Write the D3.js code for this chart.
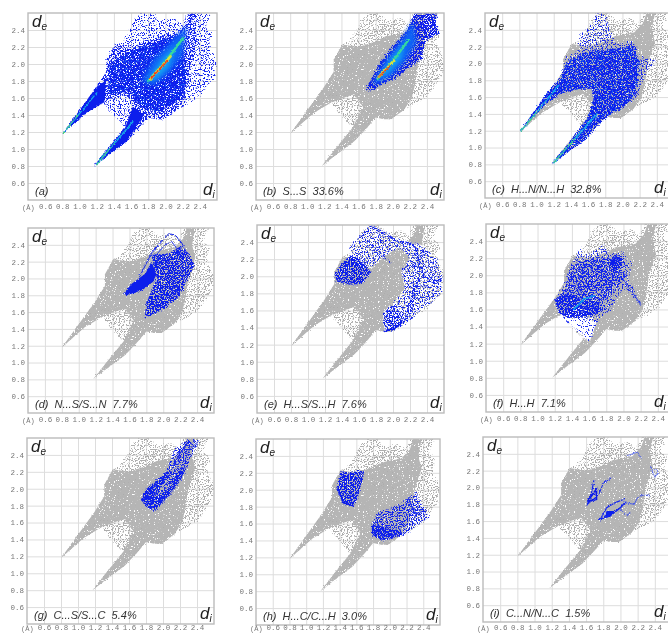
<!DOCTYPE html>
<meta charset="utf-8">
<style>
html, body { margin: 0; background: #fff; }
svg { display: block; }
.plot { filter: blur(0.5px); }
.tick text { font: 7.5px "Liberation Mono", monospace; fill: #777; }
.grid line { stroke: #ddd; }
.grid path, .labels path, .labels line { display: none; }
.frame { fill: none; stroke: #bbb; stroke-width: 1.4; }
.name { font: italic 11px "Liberation Sans", sans-serif; fill: #333; white-space: pre; }
.dlabel { font: italic 17px "Liberation Sans", sans-serif; fill: #222; }
.dlabel tspan { font-size: 10px; }
.unit { font: 7px "Liberation Mono", monospace; fill: #777; }
</style>
<body>
<script src="https://cdn.jsdelivr.net/npm/d3@7"></script>
<script>

// all regions are [di, de]
var tickValues = [0.6, 0.8, 1.0, 1.2, 1.4, 1.6, 1.8, 2.0, 2.2, 2.4];

var outline = [[0.8,1.18],[1.19,1.72],[1.31,1.91],[1.31,2.05],[1.41,2.23],[1.49,2.26],[1.56,2.36],[1.64,2.52],[1.72,2.6],[1.84,2.6],[1.94,2.51],[2.09,2.54],[2.19,2.48],[2.25,2.6],[2.53,2.6],[2.47,2.44],[2.55,2.36],[2.51,2.25],[2.6,2.01],[2.58,1.87],[2.41,1.62],[2.29,1.54],[2.13,1.46],[1.98,1.35],[1.9,1.35],[1.8,1.37],[1.7,1.25],[1.55,1.09],[1.35,0.94],[1.17,0.8],[1.35,1.03],[1.53,1.25],[1.27,1.54],[1.07,1.42]];
var dense = [[0.8,1.18],[1.19,1.72],[1.31,1.91],[1.31,2.05],[1.41,2.23],[1.6,2.2],[1.75,2.25],[1.94,2.33],[2.14,2.37],[2.24,2.48],[2.28,2.6],[2.38,2.6],[2.34,2.4],[2.38,2.25],[2.3,2.02],[2.26,1.75],[2.22,1.59],[2.13,1.46],[1.98,1.35],[1.9,1.35],[1.8,1.37],[1.7,1.25],[1.55,1.09],[1.35,0.94],[1.17,0.8],[1.35,1.03],[1.53,1.25],[1.65,1.5],[1.54,1.64],[1.42,1.6],[1.27,1.54],[1.07,1.42]];

var aSpikeUp = [[0.8,1.18],[1.19,1.72],[1.3,1.8],[1.3,1.6],[1.27,1.54],[1.07,1.42]];
var aSpikeLow = [[1.17,0.8],[1.35,1.03],[1.53,1.25],[1.62,1.5],[1.75,1.4],[1.55,1.09],[1.35,0.94]];
var aMass = [[1.33,1.65],[1.35,2.0],[1.5,2.12],[1.72,2.2],[2.16,2.36],[2.25,1.9],[2.2,1.6],[1.9,1.42],[1.7,1.5],[1.6,1.68]];
var aGlow = [[1.72,1.8],[1.85,2.05],[2.1,2.3],[2.25,2.45],[2.2,2.1],[2.05,1.9],[1.85,1.75]];
var aCyan = [[1.8,1.82],[1.95,2.05],[2.12,2.22],[2.05,1.98],[1.9,1.82]];
var aRidge = [[1.8,1.8],[2.0,2.03],[2.2,2.3]];
var aYellow = [[1.82,1.82],[2.06,2.09]];
var aRed = [[1.83,1.83],[2.02,2.04]];
var aUpLine = [[0.82,1.2],[1.2,1.66]];
var aLowLine = [[1.2,0.82],[1.62,1.32]];
var aUpHot = [[0.81,1.19],[0.98,1.4]];
var aLowHot = [[1.2,0.82],[1.4,1.06]];

var bBlue = [[1.68,1.69],[1.83,1.98],[1.95,2.15],[2.08,2.3],[2.17,2.4],[2.26,2.6],[2.52,2.6],[2.5,2.48],[2.55,2.36],[2.38,2.28],[2.34,2.05],[2.15,1.93],[2.05,1.84],[1.91,1.78],[1.75,1.69]];
var bGlow = [[1.76,1.76],[1.9,2.02],[2.1,2.28],[2.24,2.5],[2.28,2.25],[2.14,2.02],[1.98,1.86],[1.84,1.78]];
var bCyan = [[1.84,1.84],[1.98,2.06],[2.14,2.25],[2.1,2.06],[1.94,1.88]];
var bRidge = [[1.82,1.82],[2.0,2.03],[2.18,2.28]];
var bYellow = [[1.83,1.84],[2.02,2.05]];
var bRed = [[1.84,1.85],[1.97,1.98]];

var cBlue = [[0.8,1.18],[1.11,1.64],[1.28,1.86],[1.34,2.07],[1.48,2.15],[1.5,2.35],[1.66,2.47],[1.7,2.6],[1.81,2.6],[1.85,2.39],[1.93,2.23],[2.13,2.27],[2.21,2.08],[2.4,2.04],[2.25,1.84],[2.17,1.6],[2.01,1.48],[1.82,1.37],[1.7,1.25],[1.58,1.1],[1.42,0.99],[1.18,0.8],[1.4,1.09],[1.6,1.36],[1.67,1.6],[1.64,1.7],[1.5,1.7],[1.28,1.64],[1.11,1.52]];
var cMass = [[0.8,1.18],[1.11,1.64],[1.28,1.82],[1.36,2.02],[1.52,2.12],[1.93,2.18],[2.12,2.2],[2.2,2.02],[2.18,1.8],[2.13,1.6],[2.01,1.48],[1.82,1.37],[1.7,1.25],[1.58,1.1],[1.42,0.99],[1.18,0.8],[1.4,1.09],[1.6,1.36],[1.67,1.6],[1.64,1.7],[1.5,1.7],[1.28,1.64],[1.11,1.52]];
var cUpLine = [[0.82,1.2],[1.26,1.74]];
var cLowLine = [[1.2,0.82],[1.7,1.4]];
var cUpHot = [[0.82,1.2],[1.0,1.42]];
var cLowHot = [[1.2,0.82],[1.44,1.1]];

var dLeft = [[1.53,1.82],[1.63,1.94],[1.79,2.06],[1.86,2.2],[1.92,2.05],[1.88,1.96],[1.75,1.86],[1.57,1.8]];
var dRight = [[1.78,1.53],[1.8,1.72],[1.92,2.0],[1.86,2.28],[2.06,2.3],[2.2,2.38],[2.3,2.3],[2.37,2.16],[2.2,1.8],[2.02,1.64]];
var dCore = [[1.8,1.54],[1.82,1.72],[1.96,1.95],[2.0,2.2],[2.16,2.1],[2.16,1.84],[2.02,1.68]];
var dArch = [[1.86,2.3],[2.0,2.46],[2.06,2.53],[2.14,2.52],[2.22,2.42],[2.28,2.3]];
var dArchIn = [[1.9,2.26],[2.02,2.4],[2.1,2.44],[2.2,2.3]];
var dLeftLine = [[1.72,2.02],[1.86,2.3]];

var eLobeA = [[1.31,2.03],[1.34,1.94],[1.47,1.9],[1.63,1.91],[1.75,2.05],[1.59,2.21],[1.49,2.24],[1.38,2.13]];
var eBand = [[1.49,2.35],[1.59,2.45],[1.71,2.58],[1.82,2.58],[2.02,2.43],[2.33,2.37],[2.52,2.21],[2.59,1.98],[2.56,1.78],[2.37,1.62],[2.21,1.49],[2.02,1.37],[1.9,1.37],[1.88,1.58],[2.02,1.7],[2.14,1.86],[2.1,2.05],[2.2,2.22],[2.08,2.34],[1.95,2.27],[1.75,2.1],[1.6,2.1],[1.52,2.2]];
var eLobeB = [[1.88,1.58],[1.9,1.37],[2.02,1.37],[2.12,1.5],[2.04,1.66]];
var eLobeBEdge = [[1.9,1.36],[2.0,1.38],[2.1,1.46]];
var eTop = [[1.75,2.58],[1.9,2.5],[2.05,2.42],[2.25,2.36],[2.3,2.2],[2.36,2.0],[2.5,1.95],[2.58,1.96]];
var eStreak = [[1.7,2.42],[1.82,2.3],[1.97,2.16]];
var eStreak2 = [[2.3,1.95],[2.22,1.7],[2.16,1.5]];
var eStreak3 = [[2.12,2.08],[2.28,2.14],[2.36,2.3]];
var eLobeALine = [[1.48,2.22],[1.56,2.1],[1.58,1.95]];

var fBlue = [[1.2,1.7],[1.3,1.89],[1.39,2.13],[1.51,2.34],[1.53,2.21],[1.78,2.36],[1.84,2.25],[2.0,2.27],[2.1,2.13],[2.06,1.97],[2.21,1.65],[2.0,1.85],[1.84,1.58],[1.69,1.46],[1.61,1.23],[1.57,1.24],[1.26,1.54]];
var fUpper = [[1.3,1.75],[1.38,2.1],[1.6,2.2],[1.86,2.2],[2.04,2.0],[1.85,1.75],[1.62,1.66],[1.45,1.72]];
var fArc = [[1.2,1.7],[1.26,1.55],[1.38,1.5],[1.6,1.52],[1.75,1.58],[1.72,1.7],[1.5,1.7],[1.4,1.78],[1.28,1.78]];
var fSpot = [[1.82,2.12],[1.9,2.24],[2.0,2.2],[1.98,2.08],[1.88,2.04]];
var fStreak = [[2.0,1.95],[2.2,1.66]];
var fGlow = [[1.42,1.6],[1.54,1.72],[1.66,1.76]];
var fLower = [[1.26,1.54],[1.57,1.24],[1.61,1.23],[1.69,1.46],[1.5,1.5],[1.38,1.5]];

var gBlue = [[1.74,1.87],[1.8,1.99],[2.04,2.2],[2.13,2.46],[2.29,2.58],[2.43,2.57],[2.31,2.32],[2.25,2.17],[2.13,1.99],[1.99,1.83],[1.9,1.74],[1.8,1.79]];
var gRim = [[1.74,1.87],[1.8,1.99],[2.04,2.2],[2.12,2.2],[1.95,2.0],[1.9,1.9],[2.04,1.97],[2.22,2.26],[2.25,2.17],[2.13,1.99],[1.99,1.83],[1.9,1.74],[1.8,1.79]];
var gTop = [[2.13,2.28],[2.2,2.42],[2.3,2.56]];
var gTop2 = [[2.24,2.3],[2.32,2.48],[2.42,2.56]];

var hUpper = [[1.36,2.02],[1.41,2.22],[1.52,2.2],[1.67,2.23],[1.69,2.18],[1.61,1.88],[1.56,1.8],[1.44,1.84]];
var hUpperEdge = [[1.38,2.02],[1.44,1.85],[1.56,1.81]];
var hLower = [[1.78,1.6],[1.85,1.72],[2.13,1.84],[2.32,1.98],[2.36,1.86],[2.48,1.68],[2.36,1.6],[2.17,1.46],[1.93,1.4],[1.79,1.46]];
var hLowerDense = [[1.78,1.6],[1.95,1.56],[2.17,1.48],[1.93,1.4],[1.79,1.46]];
var hLine = [[2.22,1.9],[2.3,1.72],[2.38,1.74]];

var iUpA = [[1.61,1.79],[1.66,1.92],[1.69,2.08]];
var iUpB = [[1.62,1.8],[1.75,1.92],[1.8,2.05],[1.9,2.12]];
var iUpC = [[1.64,1.84],[1.72,1.86],[1.72,1.98],[1.62,1.84]];
var iLowA = [[1.76,1.61],[1.84,1.76],[1.94,1.82],[2.04,1.86]];
var iLowB = [[1.76,1.62],[1.9,1.68],[2.0,1.76],[2.06,1.83]];
var iLowC = [[1.8,1.63],[1.84,1.72],[1.94,1.72],[1.88,1.65],[1.8,1.63]];
var iLowD = [[2.04,1.82],[2.16,1.8],[2.2,1.88],[2.27,1.91],[2.34,1.9]];
var iLowE = [[1.98,1.76],[2.08,1.66],[2.12,1.72]];
var iTop = [[2.08,2.38],[2.2,2.42],[2.24,2.36]];
var iRight = [[2.35,2.25],[2.4,2.12],[2.44,2.18],[2.4,2.22]];

// speckle filters: cut = noise level below which a fill drops out
var speckles = [
  {id: "sp15", cut: 0.60, seed: 3, rough: 4},
  {id: "sp30", cut: 0.55, seed: 7, rough: 4},
  {id: "sp40", cut: 0.52, seed: 13, rough: 4},
  {id: "sp55", cut: 0.49, seed: 11, rough: 4},
  {id: "sp80", cut: 0.42, seed: 5, rough: 4},
  {id: "sp92", cut: 0.30, seed: 9, rough: 2},
  {id: "rough", cut: 0, seed: 2, rough: 3}
];

var styles = {
  gSparse: {fill: "#adadad", filter: "sp40"},
  gDense: {fill: "#b5b5b5", filter: "sp92"},
  bThin: {fill: "#1a2cf2", filter: "sp15"},
  bSparse: {fill: "#1426f0", filter: "sp30"},
  bMed: {fill: "#1022ee", filter: "sp55"},
  bThick: {fill: "#0c1eec", filter: "sp80"},
  bSolid: {fill: "#0c1eec", filter: "rough"},
  mottle: {fill: "#1a5cf5", filter: "sp15"},
  azure: {fill: "#0f63f5", filter: "soft"},
  sky: {fill: "#13a0f2", filter: "soft"},
  white: {fill: "#fff", filter: "rough"}
};

var grayBase = [[outline, "gSparse"], [dense, "gDense"]];

var panels = [
  {x: 28, y: 13, w: 189, h: 187, label: "(a)", base: [],
    areas: [[outline, "bSparse"], [dense, "bMed"], [aSpikeUp, "bSolid"], [aSpikeLow, "bSolid"], [aMass, "bThick"], [aMass, "mottle"], [aGlow, "azure"], [aCyan, "sky"]],
    lines: [[aRidge, "#35d8a0", 2.6], [aYellow, "#d8e040", 2.6], [aRed, "#ee3a1c", 1.6], [aUpLine, "#18a8e8", 1.4], [aLowLine, "#18a8e8", 1.6], [aUpHot, "#50d080", 1], [aLowHot, "#50d080", 1]]},
  {x: 256, y: 13, w: 188, h: 187, label: "(b)  S...S  33.6%", base: grayBase,
    areas: [[bBlue, "bThick"], [bBlue, "bThick"], [bGlow, "azure"], [bCyan, "sky"]],
    lines: [[bRidge, "#35d8a0", 2.4], [bYellow, "#d8e040", 2.2], [bRed, "#ee3a1c", 1.5]]},
  {x: 485, y: 13, w: 189, h: 185, label: "(c)  H...N/N...H  32.8%", base: grayBase,
    areas: [[cBlue, "bSparse"], [cMass, "bThick"], [cMass, "mottle"]],
    lines: [[cUpLine, "#18a8e8", 1.4], [cLowLine, "#18a8e8", 1.6], [cUpHot, "#50d080", 1], [cLowHot, "#50d080", 1]]},
  {x: 28, y: 228, w: 186, h: 185, label: "(d)  N...S/S...N  7.7%", base: grayBase,
    areas: [[dLeft, "bSolid"], [dRight, "bThick"], [dCore, "bThick"]],
    lines: [[dArch, "#1224ee", 1], [dArchIn, "#1224ee", 0.8], [dLeftLine, "#1224ee", 1]]},
  {x: 257, y: 225, w: 187, h: 188, label: "(e)  H...S/S...H  7.6%", base: grayBase,
    areas: [[eBand, "white"], [eBand, "gSparse"], [eBand, "bSparse"], [eLobeA, "bThick"], [eLobeB, "bMed"]],
    lines: [[eTop, "#1224ee", 3, "sp55"], [eStreak, "#1224ee", 1.6, "sp55"], [eStreak2, "#1224ee", 4, "sp55"], [eStreak3, "#1224ee", 3, "sp55"], [eLobeALine, "#0a1ae8", 3, "sp80"], [eLobeBEdge, "#0a1ae8", 2]]},
  {x: 486, y: 224, w: 189, h: 188, label: "(f)  H...H  7.1%", base: grayBase,
    areas: [[fBlue, "bSparse"], [fLower, "white"], [fLower, "bThin"], [fUpper, "bMed"], [fArc, "bThick"], [fSpot, "bThick"]],
    lines: [[fStreak, "#1a2ff0", 0.9], [fGlow, "#13a0f2", 1.4]]},
  {x: 27, y: 438, w: 187, h: 186, label: "(g)  C...S/S...C  5.4%", base: grayBase,
    areas: [[gBlue, "bMed"], [gRim, "bThick"]],
    lines: [[gTop, "#1224ee", 1.2], [gTop2, "#1224ee", 0.8]]},
  {x: 256, y: 439, w: 184, h: 186, label: "(h)  H...C/C...H  3.0%", base: grayBase,
    areas: [[hUpper, "bThick"], [hLower, "bMed"], [hLowerDense, "bThick"]],
    lines: [[hUpperEdge, "#0a1ae8", 1.6], [hLine, "#1a2ff0", 1.2]]},
  {x: 483, y: 437, w: 189, h: 185, label: "(i)  C...N/N...C  1.5%", base: grayBase,
    areas: [[iLowC, "bSolid"]],
    lines: [[iUpA, "#1224ee", 1.2], [iUpB, "#1224ee", 1], [iUpC, "#0a1ae8", 1.8], [iLowA, "#1224ee", 1.2], [iLowB, "#1224ee", 1.4], [iLowD, "#2a40f0", 0.8], [iLowE, "#2a40f0", 0.7], [iTop, "#3a50f0", 0.7], [iRight, "#3a50f0", 0.7]]}
];

var svg = d3.select("body").append("svg")
    .attr("width", 668)
    .attr("height", 634);

var defs = svg.append("defs");

function newFilter(id) {
  return defs.append("filter")
      .attr("id", id)
      .attr("filterUnits", "userSpaceOnUse")
      .attr("x", -20).attr("y", -20)
      .attr("width", 240).attr("height", 240)
      .attr("color-interpolation-filters", "sRGB");
}

speckles.forEach(function(s) {
  var f = newFilter(s.id);
  f.append("feTurbulence")
      .attr("type", "fractalNoise")
      .attr("baseFrequency", 0.8)
      .attr("numOctaves", 2)
      .attr("seed", s.seed)
      .attr("result", "noise");
  f.append("feDisplacementMap")
      .attr("in", "SourceGraphic")
      .attr("in2", "noise")
      .attr("scale", s.rough)
      .attr("xChannelSelector", "R")
      .attr("yChannelSelector", "G")
      .attr("result", "moved");
  if (!s.cut) return;
  var k = 14;
  f.append("feColorMatrix")
      .attr("in", "noise")
      .attr("type", "matrix")
      .attr("values", "0 0 0 0 0  0 0 0 0 0  0 0 0 0 0  0 0 0 " + k + " " + (-k * s.cut))
      .attr("result", "mask");
  f.append("feComposite")
      .attr("in", "moved")
      .attr("in2", "mask")
      .attr("operator", "in");
});

newFilter("soft").append("feGaussianBlur").attr("stdDeviation", 2);

panels.forEach(function(p, i) {
  var x = d3.scaleLinear().domain([0.4, 2.6]).range([0, p.w]);
  var y = d3.scaleLinear().domain([0.4, 2.6]).range([p.h, 0]);

  // bottom row has no room under the frame, labels sit closer to it
  var pad = Math.min(4, 625 - (p.y + p.h));

  var g = svg.append("g")
      .attr("class", "plot")
      .attr("transform", "translate(" + p.x + "," + p.y + ")");

  g.append("g")
      .attr("class", "grid")
      .attr("transform", "translate(0," + p.h + ")")
      .call(d3.axisBottom(x).tickValues(tickValues).tickSize(-p.h).tickFormat(""));
  g.append("g")
      .attr("class", "grid")
      .call(d3.axisLeft(y).tickValues(tickValues).tickSize(-p.w).tickFormat(""));

  g.append("clipPath")
      .attr("id", "clip" + i)
    .append("rect")
      .attr("width", p.w)
      .attr("height", p.h);

  var marks = g.append("g").attr("clip-path", "url(#clip" + i + ")");

  var line = d3.line()
      .x(function(d) { return x(d[0]); })
      .y(function(d) { return y(d[1]); });

  // grey silhouette first, then the coloured regions on top of it
  p.base.concat(p.areas).forEach(function(a) {
    var st = styles[a[1]];
    marks.append("path")
        .attr("d", line(a[0]) + "Z")
        .attr("fill", st.fill)
        .attr("filter", "url(#" + st.filter + ")");
  });

  p.lines.forEach(function(l) {
    marks.append("path")
        .attr("d", line(l[0]))
        .attr("fill", "none")
        .attr("stroke", l[1])
        .attr("stroke-width", l[2])
        .attr("stroke-linecap", "round")
        .attr("filter", "url(#" + (l[3] || "rough") + ")");
  });

  g.append("rect")
      .attr("class", "frame")
      .attr("width", p.w)
      .attr("height", p.h);

  g.append("g")
      .attr("class", "labels")
      .attr("transform", "translate(0," + p.h + ")")
      .call(d3.axisBottom(x).tickValues(tickValues).tickSize(0).tickPadding(pad).tickFormat(d3.format(".1f")));
  g.append("g")
      .attr("class", "labels")
      .call(d3.axisLeft(y).tickValues(tickValues).tickSize(0).tickPadding(3).tickFormat(d3.format(".1f")));

  g.append("text")
      .attr("class", "unit")
      .attr("x", -6)
      .attr("y", p.h + pad + 6)
      .text("(Å)");

  g.append("text")
      .attr("class", "name")
      .attr("x", 7)
      .attr("y", p.h - 5)
      .text(p.label);

  var de = g.append("text")
      .attr("class", "dlabel")
      .attr("x", 4)
      .attr("y", 14);
  de.append("tspan").style("font-size", "17px").text("d");
  de.append("tspan").attr("dy", 3).text("e");

  // panels c, f and i run past the window, keep their d_i inside it
  var di = g.append("text")
      .attr("class", "dlabel")
      .attr("x", Math.min(p.w - 14, 654 - p.x))
      .attr("y", p.h - 5);
  di.append("tspan").style("font-size", "17px").text("d");
  di.append("tspan").attr("dy", 3).text("i");
});

</script>
</body>
</html>
